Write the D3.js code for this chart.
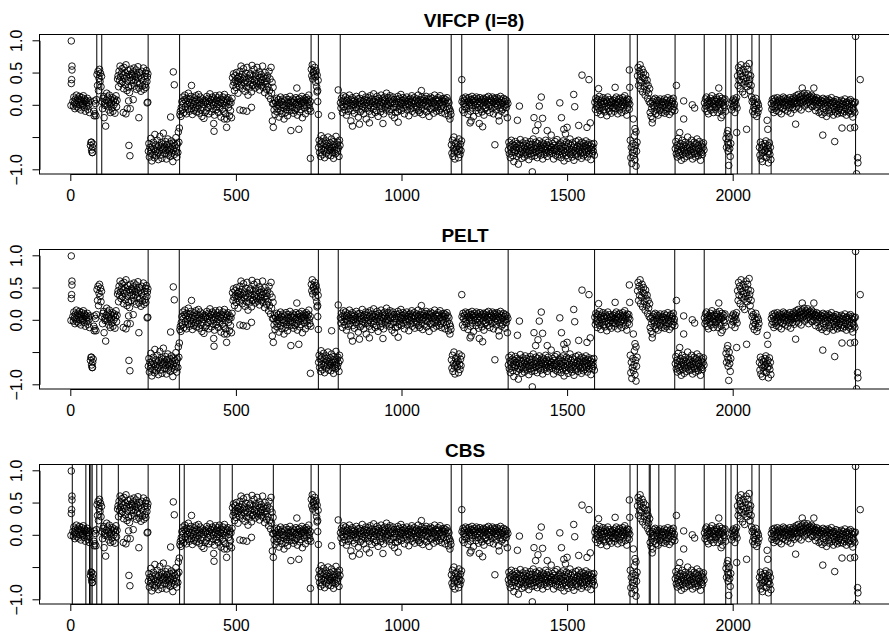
<!DOCTYPE html>
<html>
<head>
<meta charset="utf-8">
<script src="https://cdn.jsdelivr.net/npm/d3@7"></script>
<style>
  body { margin: 0; background: #fff; }
  text { font-family: "Liberation Sans", Arial, Helvetica, sans-serif; }
</style>
</head>
<body>
<svg id="chart" width="889" height="634"></svg>
<script>
// probe positions where each run of values starts/ends (values are spread evenly between breaks)
const segmentBreaks = [7, 60, 70, 80, 95, 142, 235, 330, 489, 613, 727, 749, 815, 1150, 1182,
  1322, 1583, 1690, 1712, 1750, 1826, 1914, 1979, 1995, 2014, 2058, 2080, 2116, 2371];

// log ratios, one list per run
const ratioSegments = [
  [0.05, -0.02, 0.12, 0.03, -0.06, 0.09, 0.01, 0.15, -0.03, 0.07, 0.10, -0.05, 0.04, 0.13, 0.00, 0.08,
   -0.08, 0.06, 0.11, -0.01, 0.02, 0.14, -0.04, 0.09, 0.05, -0.10, 0.07, 0.03, -0.02, 0.10, -0.07, 0.04,
   0.00, -0.12, 0.06],
  [-0.63, -0.58, -0.70, -0.74, -0.66, -0.61],
  [-0.10, 0.06, -0.14, 0.02, -0.17, 0.08],
  [0.47, 0.30, 0.52, 0.22, 0.41, 0.55, 0.36, 0.49, 0.28, 0.44],
  [0.05, -0.06, 0.10, 0.13, -0.20, 0.02, -0.01, -0.33, 0.07, 0.18, -0.02, 0.12, 0.04, -0.08, 0.15, 0.01,
   -0.12, 0.08, 0.03, -0.05, 0.11, -0.10, 0.06, 0.00, 0.09, -0.13, 0.04, 0.14, -0.03, 0.07],
  [0.40, 0.45, 0.28, 0.52, 0.38, 0.60, 0.43, 0.33, 0.49, 0.56, 0.36, 0.46, 0.25, 0.58, 0.41, 0.50,
   0.31, 0.62, 0.44, 0.22, 0.37, 0.53, 0.27, 0.47, 0.19, 0.42, 0.55, 0.30, 0.48, 0.38, 0.45,
   0.51, 0.34, 0.57, 0.29, 0.44, 0.39, 0.54, 0.24, 0.47, 0.35, 0.59, 0.42, 0.26, 0.50, 0.33, 0.46,
   0.21, 0.40, 0.52, 0.29, 0.37, 0.57, 0.24, 0.44, 0.31, 0.49, 0.27, 0.53, 0.36, 0.43, 0.48],
  [-0.72, -0.60, -0.81, -0.66, -0.75, -0.52, -0.70, -0.87, -0.64, -0.77, -0.58, -0.69, -0.82, -0.46, -0.73, -0.62,
   -0.79, -0.67, -0.55, -0.74, -0.85, -0.63, -0.71, -0.49, -0.78, -0.66, -0.59, -0.83, -0.70, -0.61, -0.44, -0.68,
   -0.65, -0.76, -0.57, -0.71, -0.84, -0.62, -0.69, -0.53, -0.78, -0.66, -0.73, -0.60, -0.80, -0.68, -0.56, -0.75,
   -0.64, -0.88, -0.70, -0.59, -0.77, -0.63, -0.72, -0.51, -0.67, -0.81, -0.61, -0.74, -0.42, -0.58, -0.36],
  [-0.15, -0.10, -0.18, -0.04, 0.05, -0.08, 0.12, 0.02, -0.12, 0.08, 0.15, -0.03, 0.06, -0.14, 0.10, 0.01,
   -0.07, 0.18, 0.04, -0.10, 0.09, -0.02, 0.13, -0.06, 0.03, -0.15, 0.07, 0.00, -0.09, 0.11, 0.05, -0.04,
   0.14, -0.11, 0.02, 0.08, -0.06, 0.16, -0.01, -0.13, 0.06, 0.12, -0.08, 0.03, -0.18, 0.09, -0.05, 0.01,
   -0.21, 0.07, -0.12, 0.04,
   0.06, -0.09, 0.13, 0.02, -0.04, 0.10, -0.14, 0.05, 0.17, -0.02, 0.08, -0.11, 0.03, 0.12, -0.06, 0.00,
   0.09, -0.16, 0.04, 0.14, -0.08, 0.07, -0.03, 0.11, 0.01, -0.12, 0.06, 0.15, -0.05, 0.03, -0.19, 0.08,
   0.02, -0.07, 0.12, -0.10, 0.05, 0.16, -0.01, -0.14, 0.09, 0.04, -0.22, 0.07, 0.11, -0.04, 0.01, -0.17,
   0.06, -0.09, 0.03, -0.20, 0.10],
  [0.42, 0.30, 0.48, 0.35, 0.22, 0.45, 0.38, 0.27, 0.50, 0.33, 0.41, 0.18, 0.36, 0.44, 0.29, 0.52,
   0.39, 0.60, 0.31, 0.47, 0.25, 0.40, 0.56, 0.34, 0.43, 0.21, 0.37, 0.49, 0.28, 0.58, 0.35, 0.15,
   0.41, 0.26, 0.46, 0.32, 0.48, 0.38, 0.20, 0.61, 0.30,
   0.44, 0.31, 0.55, 0.37, 0.26, 0.48, 0.40, 0.33, 0.58, 0.29, 0.45, 0.36, 0.51, 0.23, 0.42, 0.34,
   0.47, 0.30, 0.39, 0.60, 0.27, 0.43, 0.35, 0.19, 0.50, 0.32, 0.41, 0.24, 0.37, 0.45, 0.28, 0.14,
   0.52, 0.22, 0.40, 0.09, 0.58, 0.18, 0.35, 0.02, 0.27],
  [0.02, -0.08, 0.07, -0.15, 0.04, -0.03, 0.10, -0.11, 0.01, -0.06, 0.08, -0.19, 0.03, -0.02, 0.12, -0.09,
   0.05, -0.14, 0.00, 0.09, -0.05, -0.22, 0.06, -0.01, -0.12, 0.11, -0.07, 0.03, -0.17, 0.08, -0.04, 0.02,
   -0.10, 0.13, -0.02, 0.06, -0.08, 0.04,
   -0.04, 0.09, -0.13, 0.03, 0.07, -0.09, 0.01, 0.11, -0.06, 0.04, -0.16, 0.08, 0.00, -0.03, 0.10, -0.11,
   0.05, -0.07, 0.02, 0.13, -0.20, 0.06, -0.01, 0.09, -0.05, 0.03, -0.14, 0.07, 0.11, -0.02, 0.04, -0.09,
   0.08, 0.15, 0.01, -0.06, 0.05, -0.10],
  [0.55, 0.45, 0.62, 0.40, 0.50, 0.52, 0.47, 0.58, 0.43, 0.35, 0.53, 0.28, 0.46, 0.22, 0.38],
  [-0.66, -0.55, -0.74, -0.61, -0.80, -0.48, -0.69, -0.58, -0.77, -0.64, -0.52, -0.71, -0.82, -0.60, -0.67, -0.56,
   -0.75, -0.63, -0.70, -0.50, -0.78, -0.65,
   -0.71, -0.59, -0.68, -0.79, -0.53, -0.66, -0.74, -0.62, -0.83, -0.57, -0.70, -0.64, -0.76, -0.49, -0.69, -0.61,
   -0.73, -0.58, -0.67, -0.80, -0.55, -0.63],
  [0.03, -0.05, 0.10, 0.00, -0.12, 0.07, 0.14, -0.03, 0.05, -0.08, 0.12, 0.01, -0.16, 0.06,
   -0.02, 0.09, -0.10, 0.04, 0.15, -0.06, 0.02, -0.25, 0.08, -0.01, 0.11, -0.09, 0.05, 0.00,
   -0.13, 0.07, 0.03, -0.04, 0.13, -0.07, 0.01, 0.09, -0.19, 0.04, -0.02, 0.10, -0.11, 0.06,
   0.02, -0.08, 0.16, -0.03, 0.05, -0.14, 0.08, 0.00, -0.06, 0.12, -0.22, 0.03, 0.07, -0.05,
   0.11, -0.01, -0.10, 0.06, 0.14, -0.04, 0.02, -0.15, 0.09, 0.04, -0.07, 0.17, -0.02, 0.05,
   -0.12, 0.08, 0.01, -0.09, 0.13, 0.03, -0.18, 0.06, 0.10, -0.03, 0.00, -0.11, 0.15, 0.04,
   -0.06, 0.09, 0.02, -0.14, 0.07, 0.12, -0.02, 0.05, -0.08, 0.18, 0.01, -0.05, 0.11, -0.01,
   0.06, -0.10, 0.14, 0.03, -0.07, 0.09, -0.16, 0.04, 0.12, -0.04, 0.08, -0.20, 0.02, -0.12,
   -0.04, 0.08, 0.01, -0.11, 0.13, 0.05, -0.07, 0.10, -0.02, 0.04, 0.16, -0.09, 0.02, 0.07,
   0.11, -0.05, 0.03, -0.14, 0.09, 0.00, 0.06, -0.03, 0.12, -0.08, 0.05, 0.01, -0.17, 0.08,
   -0.01, 0.10, -0.06, 0.04, 0.14, -0.10, 0.07, 0.02, -0.04, 0.11, -0.13, 0.06, 0.03, -0.07,
   0.09, -0.02, 0.05, 0.15, -0.09, 0.01, -0.12, 0.08, 0.04, -0.05, 0.12, 0.00, -0.15, 0.07,
   0.03, -0.08, 0.10, -0.01, 0.06, 0.13, -0.11, 0.05, -0.03, 0.09, 0.02, -0.18, 0.08, -0.06,
   0.12, 0.04, -0.07, 0.10, -0.02, 0.06, -0.13, 0.03, 0.15, -0.05, 0.01, 0.08, -0.10, 0.05,
   -0.03, 0.11, 0.07, -0.09, 0.02, 0.14, -0.06, 0.04, -0.12, 0.09, 0.00, 0.06, -0.04, 0.10,
   0.05, -0.14, 0.08, 0.02, -0.08, 0.11, -0.03, 0.06, -0.17, 0.03, -0.06, -0.22, -0.10, -0.15],
  [-0.62, -0.75, -0.55, -0.80, -0.68, -0.50, -0.72, -0.84, -0.60, -0.70, -0.66,
   -0.58, -0.73, -0.64, -0.82, -0.53, -0.69, -0.77, -0.61, -0.71, -0.56],
  [0.05, -0.08, 0.10, 0.02, -0.12, 0.07, -0.03, 0.12, 0.00, -0.06, 0.09, 0.04, -0.15, 0.06, 0.11, -0.02,
   0.03, -0.10, 0.08, 0.01, 0.13, -0.05, 0.07, -0.18, 0.04, 0.10, -0.01, 0.06, -0.09, 0.12, 0.02, -0.04,
   0.09, -0.13, 0.05, 0.00, 0.11, -0.07, 0.03, 0.08, -0.11, 0.06, -0.02, 0.10, -0.16, 0.04, -0.06,
   0.08, -0.04, 0.11, 0.01, -0.09, 0.06, 0.13, -0.02, 0.04, -0.12, 0.09, 0.00, 0.07, -0.06, 0.12, 0.03,
   -0.14, 0.05, 0.10, -0.03, 0.08, 0.02, -0.08, 0.11, -0.01, 0.06, -0.17, 0.04, 0.09, -0.05, 0.13, 0.01,
   -0.10, 0.07, 0.03, -0.07, 0.10, -0.02, 0.05, -0.13, 0.08, 0.00, -0.04, 0.06, -0.20, 0.02],
  [-0.70, -0.58, -0.76, -0.64, -0.82, -0.67, -0.55, -0.73, -0.61, -0.79, -0.69, -0.88, -0.63, -0.74,
   -0.57, -0.71, -0.66, -0.80, -0.60, -0.75, -0.92, -0.68, -0.62, -0.77, -0.54, -0.72, -0.65, -0.83,
   -0.70, -0.59, -0.76, -0.63, -0.81, -0.67, -0.56, -0.74, -0.69, -0.60, -0.78, -0.65, -0.72, -0.85,
   -0.62, -0.71, -0.57, -0.76, -0.66, -0.80, -0.61, -0.70, -0.53, -0.74, -0.68, -0.79, -0.64, -0.58,
   -0.73, -0.67, -0.82, -0.60, -0.71, -0.75, -0.56, -0.69, -0.63, -0.78, -0.66, -0.72, -0.59, -0.84,
   -0.68, -0.61, -0.77, -0.65, -0.70, -0.55, -0.74, -0.62, -0.80, -0.67, -0.58, -0.73, -0.64, -0.76,
   -0.69, -0.72, -0.66,
   -0.66, -0.75, -0.60, -0.71, -0.84, -0.63, -0.69, -0.57, -0.78, -0.67, -0.72, -0.54, -0.80, -0.65,
   -0.73, -0.61, -0.77, -0.68, -0.59, -0.82, -0.70, -0.64, -0.76, -0.56, -0.71, -0.87, -0.62, -0.74,
   -0.67, -0.79, -0.58, -0.72, -0.65, -0.83, -0.60, -0.75, -0.69, -0.53, -0.77, -0.63, -0.70, -0.81,
   -0.59, -0.74, -0.66, -0.86, -0.62, -0.71, -0.78, -0.57, -0.68, -0.75, -0.64, -0.80, -0.55, -0.72,
   -0.69, -0.61, -0.76, -0.66, -0.83, -0.58, -0.73, -0.65, -0.79, -0.60, -0.70, -0.77, -0.63, -0.56,
   -0.74, -0.67, -0.81, -0.62, -0.71, -0.59, -0.76, -0.68, -0.64, -0.85, -0.70, -0.61, -0.75, -0.66,
   -0.72, -0.60, -0.78],
  [0.04, -0.07, 0.10, -0.02, 0.06, -0.12, 0.01, 0.08, -0.05, 0.13, -0.09, 0.03, -0.15, 0.07, 0.00, -0.04,
   0.11, -0.08, 0.05, 0.02, -0.11, 0.09, -0.03, 0.06, -0.17, 0.04, 0.12, -0.06, 0.01, -0.10, 0.08, -0.01,
   0.05, -0.13, 0.03, -0.05,
   0.07, -0.04, 0.02, -0.10, 0.09, 0.01, -0.06, 0.12, -0.02, 0.05, -0.14, 0.08, 0.03, -0.08, 0.10, -0.03,
   0.06, 0.00, -0.12, 0.04, 0.11, -0.05, 0.07, -0.01, 0.14, -0.09, 0.02, 0.06, -0.16, 0.09, -0.04, 0.03,
   0.08, -0.07, 0.01],
  [-0.55, -0.82, -0.66, -0.91, -0.74, -0.60, -0.79, -0.70, -0.48, -0.85, -0.63, -0.95, -0.72, -0.58],
  [0.45, 0.58, 0.30, 0.52, 0.38, 0.62, 0.25, 0.48, 0.35, 0.55, 0.20, 0.42, 0.50, 0.28, 0.40, 0.15,
   0.46, 0.33, 0.22, 0.38, 0.10, 0.30, 0.18, 0.05, 0.25],
  [-0.12, 0.02, -0.18, -0.06, 0.05, -0.22, -0.01, 0.08, -0.10, -0.03, 0.10, -0.14, 0.04, -0.07, 0.07, -0.02,
   -0.16, 0.06, 0.00, -0.09, 0.09, -0.05, 0.03, -0.12, 0.05, -0.01,
   0.04, -0.08, 0.09, -0.13, 0.01, -0.04, 0.07, -0.10, 0.03, 0.11, -0.06, 0.00, -0.15, 0.06, -0.02, 0.08,
   -0.11, 0.02, 0.05, -0.07, 0.10, -0.03, 0.01, -0.09],
  [-0.68, -0.57, -0.76, -0.63, -0.81, -0.70, -0.52, -0.74, -0.65, -0.79, -0.60, -0.72, -0.86, -0.66, -0.55,
   -0.77, -0.69, -0.62, -0.83, -0.71, -0.58, -0.75, -0.64, -0.80, -0.67, -0.50, -0.73, -0.61, -0.78, -0.66,
   -0.71, -0.62, -0.78, -0.55, -0.69, -0.84, -0.65, -0.73, -0.58, -0.76, -0.67, -0.81, -0.60, -0.70, -0.53,
   -0.75, -0.63, -0.79, -0.68, -0.57, -0.72, -0.86, -0.64, -0.74, -0.61, -0.77, -0.66, -0.59, -0.70],
  [0.03, -0.06, 0.09, -0.02, 0.12, -0.10, 0.05, 0.00, -0.14, 0.07, 0.02, -0.05, 0.10, -0.08, 0.04, 0.14,
   -0.03, 0.06, -0.12, 0.01, 0.08, -0.04,
   -0.07, 0.05, 0.11, -0.02, 0.08, -0.12, 0.03, 0.00, 0.13, -0.05, 0.06, -0.09, 0.02, 0.10, -0.16, 0.04,
   -0.01, 0.07, -0.04, 0.09, -0.10],
  [-0.52, -0.66, -0.45, -0.58, -0.72, -0.62, -0.50, -0.68, -0.80, -0.60],
  [0.02, -0.08, 0.06, -0.03, 0.09, -0.01, 0.04, -0.12, 0.07, 0.00, 0.11, -0.05],
  [0.45, 0.30, 0.58, 0.38, 0.52, 0.25, 0.48, 0.62, 0.35, 0.44, 0.20, 0.55, 0.40, 0.32, 0.16,
   0.50, 0.36, 0.60, 0.42, 0.28, 0.55, 0.47, 0.33, 0.64, 0.39, 0.22, 0.45, 0.30, 0.12],
  [0.05, -0.10, 0.08, -0.04, -0.15, 0.02, -0.07, 0.10, -0.01, -0.18, 0.04, -0.12, 0.00, -0.06],
  [-0.66, -0.78, -0.58, -0.84, -0.70, -0.62, -0.88, -0.74, -0.65, -0.80, -0.72, -0.60,
   -0.70, -0.56, -0.82, -0.68, -0.75, -0.63, -0.90, -0.72, -0.59, -0.77, -0.66, -0.85],
  [0.02, -0.07, 0.08, -0.03, 0.05, -0.12, 0.10, 0.00, -0.05, 0.07, -0.09, 0.03, 0.11, -0.02,
   0.06, -0.11, 0.04, 0.09, -0.04, 0.01, -0.14, 0.08, 0.03, -0.06, 0.12, 0.05, -0.01, 0.10,
   -0.08, 0.04, 0.07, -0.02, 0.09, -0.10, 0.01, 0.06, -0.05, 0.11, 0.02, -0.13, 0.05, 0.00,
   0.08, -0.04, 0.03, 0.12, -0.07, 0.06, 0.10, 0.02, 0.14, -0.03, 0.09, 0.04, 0.16, -0.05,
   0.11, 0.06, 0.02, 0.13, -0.08, 0.08, 0.15, 0.03, 0.10, 0.05, 0.18, -0.02, 0.12, 0.07,
   0.14, 0.01, 0.09, 0.17, 0.04, -0.06, 0.11, 0.06, 0.13, 0.00, 0.08, 0.15, -0.03, 0.10,
   0.05, 0.12, -0.01, 0.08, 0.03, -0.09, 0.07, 0.11, -0.04, 0.06, 0.01, 0.09, -0.12, 0.04,
   0.03, -0.10, 0.07, 0.00, -0.15, 0.05, 0.10, -0.06, 0.02, -0.12, 0.08, -0.03, 0.04, -0.18,
   0.06, -0.01, 0.09, -0.08, 0.03, -0.13, 0.07, 0.01, -0.05, 0.11, -0.10, 0.04, -0.02, -0.16,
   0.05, -0.07, 0.02, -0.11, 0.08, -0.04, 0.00, -0.14, 0.06, -0.09, 0.03, -0.06, 0.01, -0.12,
   -0.03, 0.07, -0.08, 0.02, -0.13, 0.05, -0.01, -0.10, 0.09, -0.05, 0.03, -0.16, 0.04, -0.07,
   0.01, -0.11, 0.06, -0.03, -0.09, 0.08, -0.14, 0.02, -0.06, 0.05, -0.19, 0.00, -0.08, 0.03,
   -0.12, 0.04]
];

// isolated points [probe, log ratio]
const outliers = [
  [3, 0.99], [5, 0.60], [5, 0.54], [4, 0.39], [3, 0.33], [2, -0.01],
  [64, -0.58], [67, -0.74], [72, -0.17],
  [160, -0.12], [168, -0.14], [172, -0.06], [176, 0.06], [177, -0.63], [180, -0.79], [181, -0.06],
  [190, 0.08], [207, -0.20], [232, 0.03], [234, 0.04],
  [303, -0.19], [311, 0.51], [314, 0.31],
  [366, 0.30], [433, -0.29], [434, -0.41], [465, -0.22], [472, -0.35],
  [512, -0.08], [522, -0.09], [533, -0.10], [547, -0.04],
  [610, -0.25], [613, -0.35], [666, -0.40], [684, 0.26], [690, -0.38],
  [725, -0.83], [745, 0.20], [747, 0.05], [749, -0.15], [789, -0.17], [809, 0.23],
  [852, -0.33], [873, -0.30], [903, -0.28], [944, -0.29], [990, -0.27], [1060, 0.22],
  [1182, 0.39], [1207, -0.28], [1210, -0.25], [1235, -0.29], [1245, -0.34], [1282, -0.62], [1295, -0.25],
  [1350, -0.24], [1356, -0.02], [1395, -1.04], [1400, -0.20], [1405, -0.40], [1412, -0.31],
  [1416, -0.02], [1422, 0.12], [1426, -0.21], [1440, -0.40], [1452, -0.47],
  [1478, 0.03], [1483, -0.20], [1490, -0.38], [1495, -0.45], [1500, -0.35], [1520, 0.16],
  [1523, -0.03], [1535, -0.32], [1545, 0.46], [1560, -0.35], [1566, 0.39], [1570, -0.28],
  [1595, 0.25], [1645, 0.27], [1688, 0.54], [1689, 0.27],
  [1700, -0.22], [1705, -0.37], [1708, -0.42], [1757, -0.28],
  [1830, 0.30], [1840, -0.43], [1852, -0.22], [1852, 0.06], [1878, 0.00], [1885, -0.05],
  [1958, 0.26], [1965, -0.20], [1985, -0.40], [1988, -0.94],
  [2012, -0.43], [2042, -0.38], [2104, -0.24], [2106, -0.38],
  [2190, -0.30], [2210, 0.26], [2245, 0.26], [2272, -0.47], [2308, -0.57], [2330, -0.36],
  [2355, -0.36], [2368, -0.35],
  [2371, 1.06], [2374, -1.07], [2377, -0.82], [2378, -0.90], [2385, 0.39]
];

// detected change points per method
const vifcpCps = [80, 95, 235, 330, 727, 749, 815, 1150, 1182, 1322, 1583, 1690, 1712, 1826,
  1914, 1979, 1995, 2014, 2058, 2080, 2116, 2371];
const peltCps = [235, 329, 749, 809, 1322, 1583, 1825, 1914, 2371];
const cbsCps = [6, 47, 58, 62, 66, 80, 95, 145, 235, 330, 344, 452, 489, 613, 727, 749, 815,
  1150, 1182, 1322, 1583, 1690, 1712, 1748, 1751, 1777, 1826, 1914, 1979, 1995, 2014, 2058,
  2080, 2116, 2371];

const panelTitles = ['VIFCP (l=8)', 'PELT', 'CBS'];
const xTicks = [0, 500, 1000, 1500, 2000];
const yTicks = [-1, -0.5, 0, 0.5, 1];
const yTickLabels = ['\u22121.0', '', '0.0', '0.5', '1.0'];

const svg = d3.select('#chart');
const box = { left: 39.5, right: 900, top: 34.5, bottom: 174 };
const panelStep = 215;
const titleX = [474, 465, 465];

const xScale = d3.scaleLinear().domain([0, 2000]).range([70.3, 732.7]);
const yScale = d3.scaleLinear().domain([-1, 1]).range([169.3, 40.3]);

const points = [];
ratioSegments.forEach((vals, s) => {
  const a = segmentBreaks[s];
  const step = (segmentBreaks[s + 1] - a) / vals.length;
  vals.forEach((v, k) => points.push({ probe: a + step * (k + 0.5), value: v }));
});
outliers.forEach(([p, v]) => points.push({ probe: p, value: v }));

const cpsByPanel = [vifcpCps, peltCps, cbsCps];

svg.append('defs').append('clipPath')
  .attr('id', 'plotClip')
  .append('rect')
  .attr('x', box.left)
  .attr('y', box.top)
  .attr('width', box.right - box.left)
  .attr('height', box.bottom - box.top);

panelTitles.forEach((title, i) => {
  const g = svg.append('g').attr('transform', `translate(0,${i * panelStep})`);

  g.append('g')
    .attr('clip-path', 'url(#plotClip)')
    .selectAll('circle')
    .data(points)
    .join('circle')
    .attr('cx', (d) => xScale(d.probe))
    .attr('cy', (d) => yScale(d.value))
    .attr('r', 3.3)
    .style('fill', 'none')
    .style('stroke', '#000')
    .style('stroke-width', 0.9);

  g.append('g')
    .selectAll('line')
    .data(cpsByPanel[i])
    .join('line')
    .attr('x1', (d) => xScale(d))
    .attr('x2', (d) => xScale(d))
    .attr('y1', box.top)
    .attr('y2', box.bottom)
    .style('stroke', '#000')
    .style('stroke-width', 1);

  g.append('rect')
    .attr('x', box.left)
    .attr('y', box.top)
    .attr('width', box.right - box.left)
    .attr('height', box.bottom - box.top)
    .style('fill', 'none')
    .style('stroke', '#000')
    .style('stroke-width', 1);

  const xAxis = g.append('g')
    .attr('transform', `translate(0,${box.bottom})`)
    .call(d3.axisBottom(xScale).tickValues(xTicks).tickFormat(d3.format('d'))
      .tickSize(7).tickSizeOuter(0).tickPadding(9));
  xAxis.attr('font-family', null);
  xAxis.selectAll('text').style('font-size', '16px').style('fill', '#000');

  const yAxis = g.append('g')
    .attr('transform', `translate(${box.left},0)`)
    .call(d3.axisLeft(yScale).tickValues(yTicks)
      .tickFormat((d, k) => yTickLabels[k])
      .tickSize(7).tickSizeOuter(0));
  yAxis.attr('font-family', null);
  yAxis.selectAll('text')
    .attr('x', null)
    .attr('dy', null)
    .attr('transform', 'translate(-17.8,0) rotate(-90)')
    .style('text-anchor', 'middle')
    .style('font-size', '16px')
    .style('fill', '#000');

  g.selectAll('.domain, .tick line').style('stroke', '#000');

  g.append('text')
    .attr('x', titleX[i])
    .attr('y', 27)
    .style('text-anchor', 'middle')
    .style('font-weight', 'bold')
    .style('font-size', '19px')
    .style('fill', '#000')
    .text(title);
});
</script>
</body>
</html>
